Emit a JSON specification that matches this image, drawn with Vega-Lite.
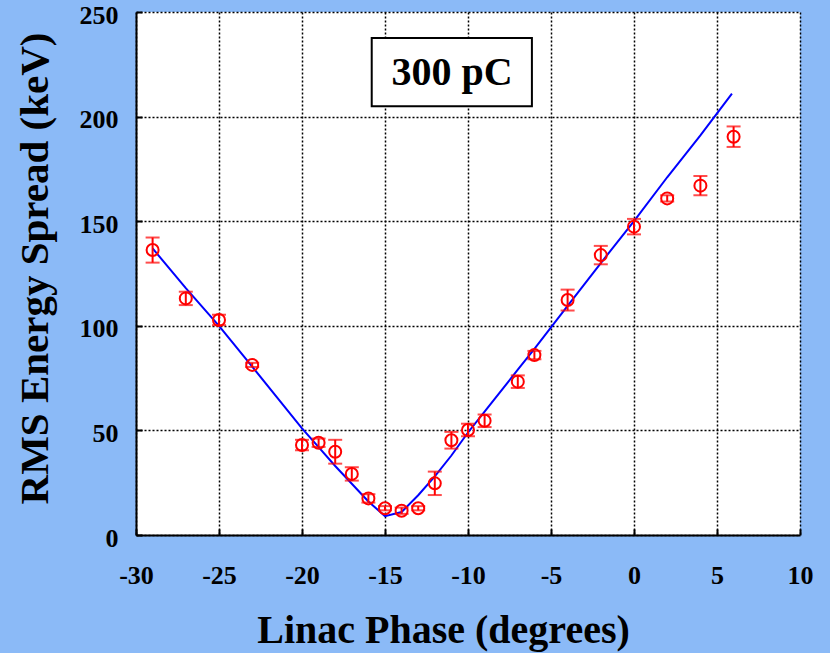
{
  "$schema": "https://vega.github.io/schema/vega-lite/v6.json",
  "width": 664,
  "height": 523,
  "autosize": {"type": "none"},
  "padding": {"left": 136, "top": 12, "right": 30, "bottom": 118},
  "background": "#8bbaf7",
  "config": {
    "view": {"stroke": null, "fill": "white"},
    "font": "Liberation Serif"
  },
  "datasets": {
    "pts": [
      {"phase": -29, "spread": 136.2, "err": 6.0},
      {"phase": -27, "spread": 113.1, "err": 3.2},
      {"phase": -25, "spread": 102.8, "err": 2.5},
      {"phase": -23, "spread": 81.3, "err": 1.0},
      {"phase": -20, "spread": 43.0, "err": 2.5},
      {"phase": -19, "spread": 44.1, "err": 2.0},
      {"phase": -18, "spread": 39.8, "err": 5.7},
      {"phase": -17, "spread": 29.2, "err": 3.2},
      {"phase": -16, "spread": 17.5, "err": 2.0},
      {"phase": -15, "spread": 12.8, "err": 1.0},
      {"phase": -14, "spread": 11.6, "err": 1.5},
      {"phase": -13, "spread": 12.8, "err": 1.0},
      {"phase": -12, "spread": 24.7, "err": 5.6},
      {"phase": -11, "spread": 45.3, "err": 4.0},
      {"phase": -10, "spread": 50.2, "err": 3.0},
      {"phase": -9, "spread": 54.6, "err": 3.0},
      {"phase": -7, "spread": 73.3, "err": 3.0},
      {"phase": -6, "spread": 86.0, "err": 2.0},
      {"phase": -4, "spread": 112.3, "err": 5.0},
      {"phase": -2, "spread": 133.8, "err": 4.4},
      {"phase": 0, "spread": 147.4, "err": 3.7},
      {"phase": 2, "spread": 160.9, "err": 1.5},
      {"phase": 4, "spread": 167.0, "err": 4.6},
      {"phase": 6, "spread": 190.4, "err": 4.9}
    ],
    "fit": [
      {"phase": -29, "spread": 137},
      {"phase": -27, "spread": 118},
      {"phase": -25, "spread": 100},
      {"phase": -23, "spread": 80.5},
      {"phase": -20, "spread": 51},
      {"phase": -19, "spread": 42},
      {"phase": -18, "spread": 33},
      {"phase": -17, "spread": 24.5},
      {"phase": -16, "spread": 16},
      {"phase": -15, "spread": 9},
      {"phase": -14, "spread": 11},
      {"phase": -13, "spread": 19},
      {"phase": -12, "spread": 28},
      {"phase": -11, "spread": 38},
      {"phase": -10, "spread": 49},
      {"phase": -9, "spread": 59},
      {"phase": -7, "spread": 79},
      {"phase": -6, "spread": 89},
      {"phase": -4, "spread": 109.5},
      {"phase": -2, "spread": 130},
      {"phase": 0, "spread": 150},
      {"phase": 2, "spread": 171},
      {"phase": 4, "spread": 191},
      {"phase": 5.9, "spread": 211}
    ],
    "label": [
      {"x0": -15.8, "x1": -6.15, "y0": 205, "y1": 237.6, "xt": -10.96, "yt": 221, "text": "300 pC"}
    ]
  },
  "layer": [
    {
      "data": {"name": "fit"},
      "mark": {"type": "line", "color": "#0000ff", "strokeWidth": 2},
      "encoding": {
        "x": {
          "field": "phase", "type": "quantitative",
          "scale": {"domain": [-30, 10], "nice": false, "zero": false},
          "axis": {
            "title": "Linac Phase (degrees)",
            "values": [-30, -25, -20, -15, -10, -5, 0, 5, 10],
            "labelExpr": "datum.value + ''",
            "labelFont": "Liberation Serif", "labelFontWeight": "bold", "labelFontSize": 26, "labelColor": "black",
            "labelPadding": 33, "labelFlush": false,
            "titleFont": "Liberation Serif", "titleFontWeight": "bold", "titleFontSize": 40, "titleColor": "black",
            "titlePadding": 22, "titleX": 307, "titleAlign": "center",
            "grid": true, "gridColor": "black", "gridDash": [2, 2], "gridWidth": 1.5, "gridOpacity": 1,
            "domainColor": "black", "domainWidth": 2,
            "tickColor": "black", "tickWidth": 2, "tickSize": -6
          }
        },
        "y": {
          "field": "spread", "type": "quantitative",
          "scale": {"domain": [0, 250], "nice": false},
          "axis": {
            "title": "RMS Energy Spread (keV)",
            "values": [0, 50, 100, 150, 200, 250],
            "labelExpr": "datum.value + ''",
            "labelFont": "Liberation Serif", "labelFontWeight": "bold", "labelFontSize": 26, "labelColor": "black",
            "labelPadding": 24, "labelFlush": false, "labelOffset": 3,
            "titleFont": "Liberation Serif", "titleFontWeight": "bold", "titleFontSize": 41, "titleColor": "black",
            "titlePadding": 23, "titleY": 256, "titleAlign": "center",
            "grid": true, "gridColor": "black", "gridDash": [2, 2], "gridWidth": 1.5, "gridOpacity": 1,
            "domainColor": "black", "domainWidth": 2,
            "tickColor": "black", "tickWidth": 2, "tickSize": -6
          }
        }
      }
    },
    {
      "data": {"name": "pts"},
      "transform": [
        {"calculate": "datum.spread - datum.err", "as": "lo"},
        {"calculate": "datum.spread + datum.err", "as": "hi"}
      ],
      "layer": [
        {
          "mark": {"type": "rule", "color": "#ff0000", "strokeWidth": 2},
          "encoding": {
            "x": {"field": "phase", "type": "quantitative"},
            "y": {"field": "lo", "type": "quantitative"},
            "y2": {"field": "hi"}
          }
        },
        {
          "mark": {"type": "tick", "color": "#ff0000", "orient": "horizontal", "size": 14, "thickness": 2},
          "encoding": {
            "x": {"field": "phase", "type": "quantitative"},
            "y": {"field": "lo", "type": "quantitative"}
          }
        },
        {
          "mark": {"type": "tick", "color": "#ff0000", "orient": "horizontal", "size": 14, "thickness": 2},
          "encoding": {
            "x": {"field": "phase", "type": "quantitative"},
            "y": {"field": "hi", "type": "quantitative"}
          }
        },
        {
          "mark": {"type": "point", "shape": "circle", "filled": false, "color": "#ff0000", "strokeWidth": 2, "size": 144, "opacity": 1},
          "encoding": {
            "x": {"field": "phase", "type": "quantitative"},
            "y": {"field": "spread", "type": "quantitative"}
          }
        }
      ]
    },
    {
      "data": {"name": "label"},
      "layer": [
        {
          "mark": {"type": "rect", "fill": "white", "stroke": "black", "strokeWidth": 2},
          "encoding": {
            "x": {"field": "x0", "type": "quantitative"},
            "x2": {"field": "x1"},
            "y": {"field": "y0", "type": "quantitative"},
            "y2": {"field": "y1"}
          }
        },
        {
          "mark": {"type": "text", "font": "Liberation Serif", "fontWeight": "bold", "fontSize": 40, "color": "black", "align": "center", "baseline": "middle"},
          "encoding": {
            "x": {"field": "xt", "type": "quantitative"},
            "y": {"field": "yt", "type": "quantitative"},
            "text": {"field": "text"}
          }
        }
      ]
    }
  ]
}
